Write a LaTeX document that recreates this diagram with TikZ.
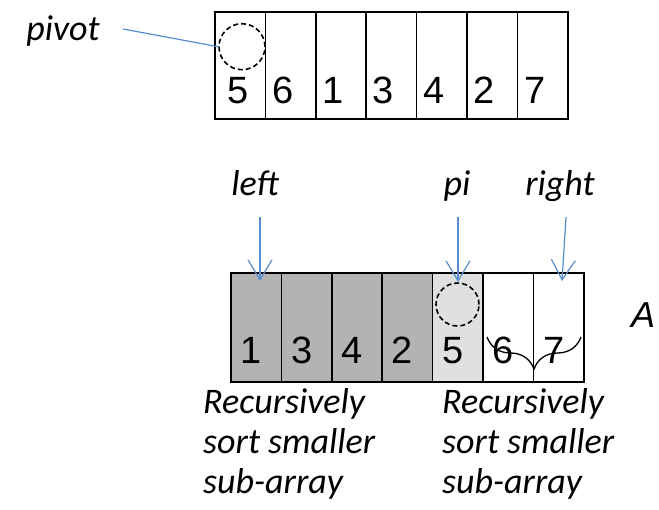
\documentclass[tikz,border=0pt]{standalone}
\usepackage{fontspec}
\setmainfont{Liberation Sans}
\newfontfamily\calfont{Carlito}
\usetikzlibrary{arrows.meta,decorations.pathreplacing}
\definecolor{ptrblue}{RGB}{88,141,205}
\definecolor{darkcell}{RGB}{179,179,179}
\definecolor{lightcell}{RGB}{224,224,224}
\tikzset{
  x=1pt, y=1pt,
  cellbox/.style={draw=black, line width=1.6pt, minimum width=50.4pt, inner sep=0pt},
  topcell/.style={cellbox, minimum height=107pt},
  botcell/.style={cellbox, minimum height=109pt},
  digit/.style={inner sep=0pt, anchor=base, font=\fontsize{38}{40}\selectfont},
  lbl/.style={inner sep=0pt, anchor=base, font=\calfont\itshape\fontsize{36}{40}\selectfont},
  ptr/.style={draw=ptrblue, line width=1.2pt, -{Straight Barb[length=20pt,width=24pt,line width=1.2pt]}},
  pivline/.style={draw=ptrblue, line width=1.2pt},
  dcirc/.style={circle, draw=black, dash pattern=on 5pt off 3pt, line width=1.6pt, inner sep=0pt},
}
\begin{document}
\begin{tikzpicture}
\useasboundingbox (0,0) rectangle (659,-509);
% top array
\foreach \i/\v/\dx in {1/5/-2.5,2/6/-8,3/1/-8,4/3/-8,5/4/-8,6/2/-8,7/7/-8}{
  \node[topcell] (t\i) at ({215+50.4*(\i-1)+25.2},-65.5) {};
  \node[digit] (td\i) at ({215+50.4*(\i-1)+25.2+\dx},-103) {\v};
}
\node[dcirc, minimum size=46pt] (tc) at (242,-46.7) {};
\node[lbl] (pivot) at (63,-40) {pivot};
\coordinate (pivs) at (123,-29);
\draw[pivline] (pivs) -- (tc.west);
% bottom array
\foreach \i/\v/\col in {1/1/darkcell,2/3/darkcell,3/4/darkcell,4/2/darkcell,5/5/lightcell,6/6/white,7/7/white}{
  \node[botcell, fill=\col] (b\i) at ({231+50.4*(\i-1)+25.2},-327.5) {};
  \node[digit] (bd\i) at ({231+50.4*(\i-1)+25.2-5},-363) {\v};
}
\node[dcirc, minimum size=43pt] (bc) at (457.5,-304.5) {};
% labels and pointers
\node[lbl] (left) at (255,-195) {left};
\node[lbl] (pi) at (457,-195) {pi};
\node[lbl] (right) at (560,-195) {right};
\coordinate (ls) at (260,-217); \coordinate (le) at (260,-281);
\coordinate (ps) at (458,-217); \coordinate (pe) at (458,-282);
\coordinate (rs) at (566,-217); \coordinate (re) at (562,-281);
\draw[ptr] (ls) -- (le);
\draw[ptr] (ps) -- (pe);
\draw[ptr] (rs) -- (re);
% brace
\coordinate (brl) at (487,-337);
\coordinate (brr) at (581,-337);
\draw[line width=1.3pt, decorate, decoration={brace, mirror, amplitude=32pt}] (brl) -- (brr);
% A
\node[inner sep=0pt, font=\itshape\fontsize{36}{40}\selectfont] (A) at (643,-315) {A};
% bottom texts
\node[lbl, anchor=base west, align=left] (recl) at (203,-493) {Recursively\\sort smaller\\sub-array};
\node[lbl, anchor=base west, align=left] (recr) at (442,-493) {Recursively\\sort smaller\\sub-array};
\end{tikzpicture}
\end{document}
